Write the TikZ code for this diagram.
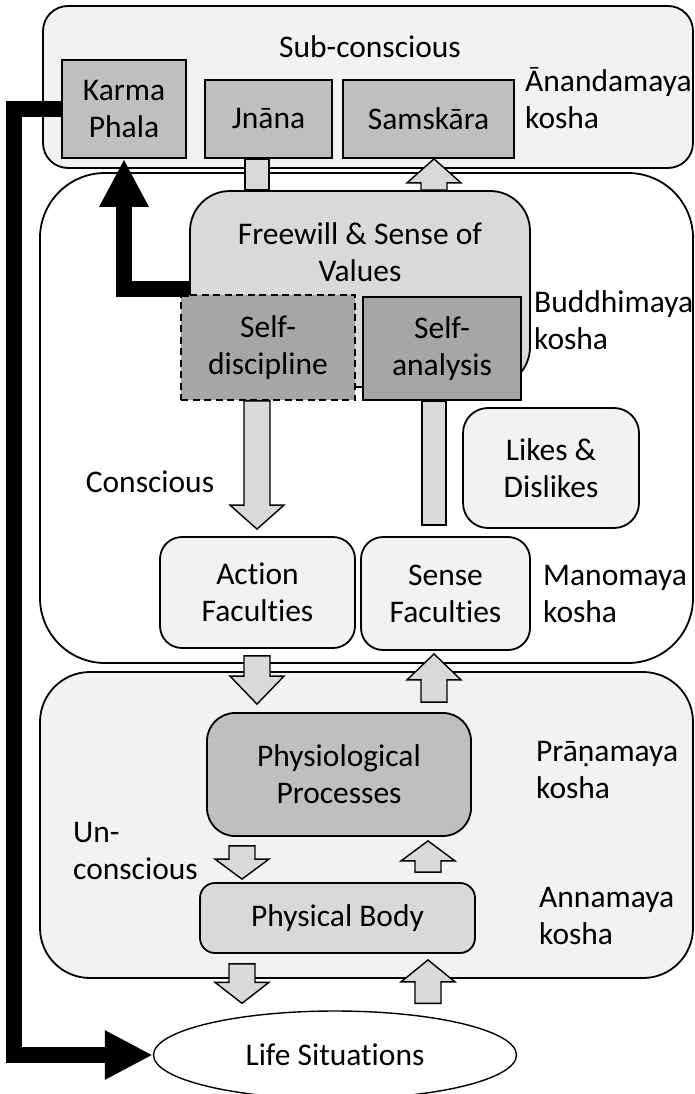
\documentclass[tikz,border=0pt]{standalone}
\usepackage{fontspec}
\setmainfont{Carlito}[Ligatures=NoCommon]
\usetikzlibrary{calc, arrows.meta, shapes.geometric}

\definecolor{paleGray}{HTML}{F2F2F2}
\definecolor{lightGray}{HTML}{D9D9D9}
\definecolor{midGray}{HTML}{BFBFBF}
\definecolor{darkGray}{HTML}{A6A6A6}

% vertical block arrow, #1 head length, from #2 to the tip at #3
\newcommand{\fatarrow}[3][24]{%
	\draw[blockarrow] let \p1=(#2), \p2=(#3), \n1={sign(\y2-\y1)} in
		(\x1-13pt,\y1) -- (\x1-13pt,{\y2-\n1*#1pt}) -- (\x1-27pt,{\y2-\n1*#1pt})
		-- (\x1,\y2) -- (\x1+27pt,{\y2-\n1*#1pt}) -- (\x1+13pt,{\y2-\n1*#1pt})
		-- (\x1+13pt,\y1) -- cycle;}
% vertical bar with no head
\newcommand{\fatbar}[2]{%
	\draw[blockarrow] let \p1=(#1), \p2=(#2) in
		(\x1-12pt,\y1) rectangle (\x1+12pt,\y2);}

\begin{document}
\begin{tikzpicture}[x=1pt, y=-1pt,
	every node/.style={font=\fontsize{31.5}{37}\selectfont, align=center, inner sep=0pt},
	kosha/.style={draw, line width=1.8pt},
	box/.style={draw, line width=1.8pt},
	koshalabel/.style={anchor=west, align=left},
	blockarrow/.style={draw, fill=lightGray, line width=1.4pt, line join=miter},
	fatline/.style={line width=16pt, line join=miter, -{Triangle[length=48pt, width=46pt]}}
]
	\useasboundingbox (0,0) rectangle (695,1094);

	\coordinate (colL) at (257,0);
	\coordinate (colR) at (434,0);
	\coordinate (lowL) at (242,0);
	\coordinate (lowR) at (428,0);

	% the five koshas
	\node[kosha, fill=paleGray, rounded corners=25pt, minimum width=650, minimum height=162]
		(anandabox) at (368,87) {};
	\node[kosha, fill=white, rounded corners=65pt, minimum width=653, minimum height=490]
		(buddhibox) at (366.5,418) {};
	\node[kosha, fill=paleGray, rounded corners=50pt, minimum width=653, minimum height=306]
		(pranabox) at (366.5,825) {};

	\node (subcon) at (370,47) {Sub-conscious};
	\node[koshalabel] (anandalbl) at (525,98) {Ānandamaya\\kosha};
	\node[koshalabel] (buddhilbl) at (534,320) {Buddhimaya\\kosha};
	\node[koshalabel] (manolbl) at (543,594) {Manomaya\\kosha};
	\node[koshalabel] (pranalbl) at (536,770) {Prāṇamaya\\kosha};
	\node[koshalabel] (annalbl) at (539,916) {Annamaya\\kosha};
	\node (conlbl) at (150,482) {Conscious};
	\node[anchor=west, align=left] (unconlbl) at (73,851) {Un-\\conscious};

	\node[box, fill=midGray, minimum width=124, minimum height=98]
		(karma) at (124,109) {Karma\\Phala};
	\node[box, fill=midGray, minimum width=127, minimum height=78]
		(jnana) at (268.5,119) {Jnāna};
	\node[box, fill=midGray, minimum width=171, minimum height=78]
		(samskara) at (428.5,119) {Samskāra};

	\node[box, fill=lightGray, rounded corners=40pt, minimum width=340, minimum height=196]
		(freewill) at (360,289) {};
	\node (fwtext) at (360,252) {Freewill \& Sense of\\Values};
	\node[box, dash pattern=on 7pt off 4.5pt, fill=darkGray, minimum width=174, minimum height=105]
		(selfdisc) at (268,347.5) {Self-\\discipline};
	\node[box, fill=darkGray, minimum width=158, minimum height=103]
		(selfana) at (442,348.5) {Self-\\analysis};

	\node[box, fill=paleGray, rounded corners=25pt, minimum width=176, minimum height=120]
		(likes) at (551,468) {Likes \&\\Dislikes};
	\node[box, fill=paleGray, rounded corners=22pt, minimum width=195, minimum height=111]
		(action) at (257.5,592.5) {Action\\Faculties};
	\node[box, fill=paleGray, rounded corners=22pt, minimum width=169, minimum height=113]
		(sense) at (445.5,593.5) {Sense\\Faculties};

	\node[box, fill=midGray, rounded corners=28pt, minimum width=264, minimum height=123]
		(physio) at (339,774.5) {Physiological\\Processes};
	\node[box, fill=lightGray, rounded corners=15pt, minimum width=275, minimum height=70]
		(body) at (337.5,918) {Physical Body};

	\node[draw, ellipse, line width=1.4pt, fill=white, minimum width=363, minimum height=88]
		(life) at (335,1055) {Life Situations};

	% block connectors
	\fatbar{colL |- jnana.south}{colL |- freewill.north}
	\fatarrow{colR |- freewill.north}{colR |- samskara.south}
	\fatarrow{colL |- selfdisc.south}{$(colL |- action.north)+(0,-7)$}
	\fatbar{colR |- selfana.south}{$(colR |- sense.north)+(0,-11)$}
	\fatarrow[28]{$(colL |- action.south)+(0,7)$}{$(colL |- physio.north)+(0,-8)$}
	\fatarrow[26]{$(colR |- physio.north)+(0,-10)$}{$(colR |- sense.south)+(0,3)$}
	\fatarrow[20]{$(lowL |- physio.south)+(0,9)$}{$(lowL |- body.north)+(0,-3)$}
	\fatarrow[20]{$(lowR |- body.north)+(0,-10)$}{$(lowR |- physio.south)+(0,4)$}
	\fatarrow[21]{$(lowL |- body.south)+(0,10)$}{$(lowL |- life.north)+(0,-7)$}
	\fatarrow[22]{$(lowR |- life.north)+(0,-7)$}{$(lowR |- body.south)+(0,6)$}

	% karma loop
	\draw[fatline] (freewill.west) -| (karma.south);
	\draw[fatline] (karma.west) -- ++(-47,0) |- (life.west);
\end{tikzpicture}
\end{document}
